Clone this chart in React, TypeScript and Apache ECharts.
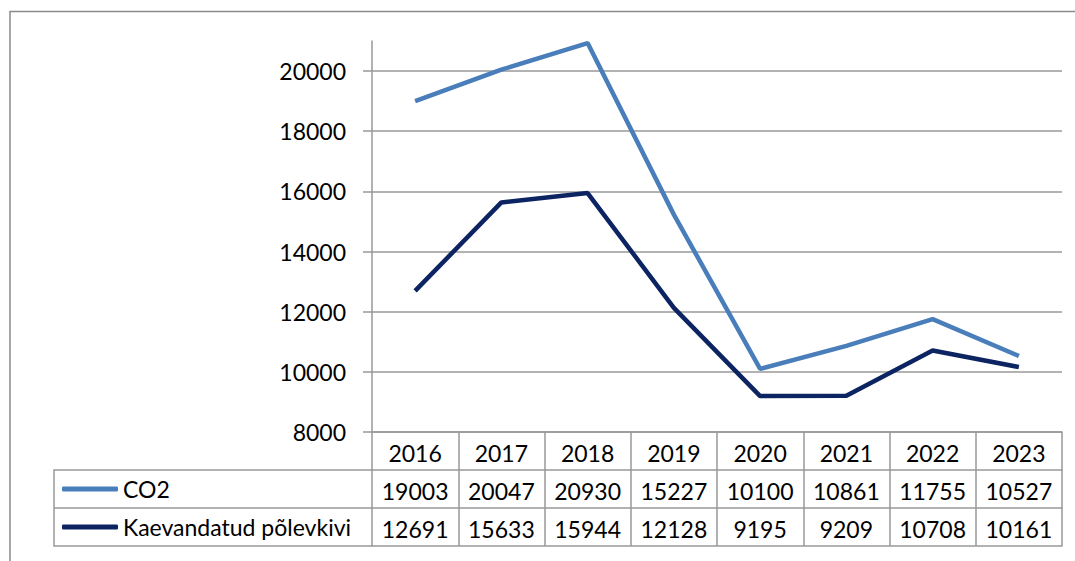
import React, { useEffect, useRef } from "react";
import * as echarts from "echarts";

const years = ["2016", "2017", "2018", "2019", "2020", "2021", "2022", "2023"];
const co2 = [19003, 20047, 20930, 15227, 10100, 10861, 11755, 10527];
const oilShale = [12691, 15633, 15944, 12128, 9195, 9209, 10708, 10161];
const yTicks = [8000, 10000, 12000, 14000, 16000, 18000, 20000];
const seriesNames = ["CO2", "Kaevandatud põlevkivi"];

const FONT = "Lato, 'Noto Sans', sans-serif";
const GRAY = "#999999";
const FS = 23;

export default function App() {
  const ref = useRef<HTMLDivElement>(null);
  useEffect(() => {
    if (!ref.current) return;
    const chart = echarts.init(ref.current, undefined, { renderer: "svg" });
    const tableAxis = (data: string[], offset: number, showLabel: boolean, showTick: boolean) => ({
      type: "category",
      data,
      position: "bottom",
      offset,
      boundaryGap: true,
      axisLine: { show: true, lineStyle: { color: GRAY, width: 1.5 } },
      axisTick: { show: showTick, length: 38, alignWithLabel: false, lineStyle: { color: GRAY, width: 1.5 } },
      axisLabel: { show: showLabel, margin: 9, fontSize: FS, color: "#000", fontFamily: FONT, interval: 0 },
      splitLine: { show: false },
    });
    chart.setOption({
      animation: false,
      backgroundColor: "#fff",
      grid: { left: 372, right: 13, top: 41, bottom: 129, containLabel: false },
      xAxis: [
        tableAxis(years, 0, true, true),
        tableAxis(co2.map(String), 38, true, true),
        tableAxis(oilShale.map(String), 76, true, true),
        tableAxis(years.map(() => ""), 114, false, false),
      ],
      yAxis: {
        type: "value",
        min: 8000,
        max: 21000,
        interval: 2000,
        axisLine: { show: true, lineStyle: { color: GRAY, width: 1.5 } },
        axisTick: { show: true, length: 9, customValues: yTicks, lineStyle: { color: GRAY, width: 1.5 } },
        axisLabel: {
          customValues: yTicks,
          margin: 26,
          fontSize: FS,
          color: "#000",
          fontFamily: FONT,
          formatter: (v: number) => String(v),
        },
        splitLine: {
          show: true,
          lineStyle: { color: [GRAY, GRAY, GRAY, GRAY, GRAY, GRAY, GRAY, "rgba(0,0,0,0)"], width: 1.5 },
        },
      },
      legend: {
        orient: "vertical",
        left: 62,
        top: 475,
        padding: 0,
        itemGap: 10,
        itemWidth: 56,
        itemHeight: 5,
        icon: "roundRect",
        data: seriesNames,
        textStyle: { fontSize: FS, color: "#000", fontFamily: FONT, lineHeight: 28 },
      },
      graphic: [
        {
          type: "rect",
          shape: { x: 10, y: 11.5, width: 1200, height: 700 },
          style: { fill: "none", stroke: "#8a8a8a", lineWidth: 1.5 },
          silent: true,
          z: -1,
        },
        {
          type: "polyline",
          shape: { points: [[372, 470], [54, 470], [54, 546], [372, 546]] },
          style: { fill: "none", stroke: GRAY, lineWidth: 1.5 },
          silent: true,
        },
        {
          type: "line",
          shape: { x1: 54, y1: 508, x2: 372, y2: 508 },
          style: { stroke: GRAY, lineWidth: 1.5 },
          silent: true,
        },
      ],
      series: [
        {
          name: seriesNames[0],
          type: "line",
          data: co2,
          symbol: "none",
          xAxisIndex: 0,
          lineStyle: { color: "#4a7ebb", width: 4.5 },
          itemStyle: { color: "#4a7ebb" },
        },
        {
          name: seriesNames[1],
          type: "line",
          data: oilShale,
          symbol: "none",
          xAxisIndex: 0,
          lineStyle: { color: "#0c2461", width: 4.5 },
          itemStyle: { color: "#0c2461" },
        },
      ],
    });
    return () => chart.dispose();
  }, []);
  return (
    <div
      ref={ref}
      style={{ position: "fixed", left: 0, top: 0, width: 1075, height: 561, background: "#fff" }}
    />
  );
}
